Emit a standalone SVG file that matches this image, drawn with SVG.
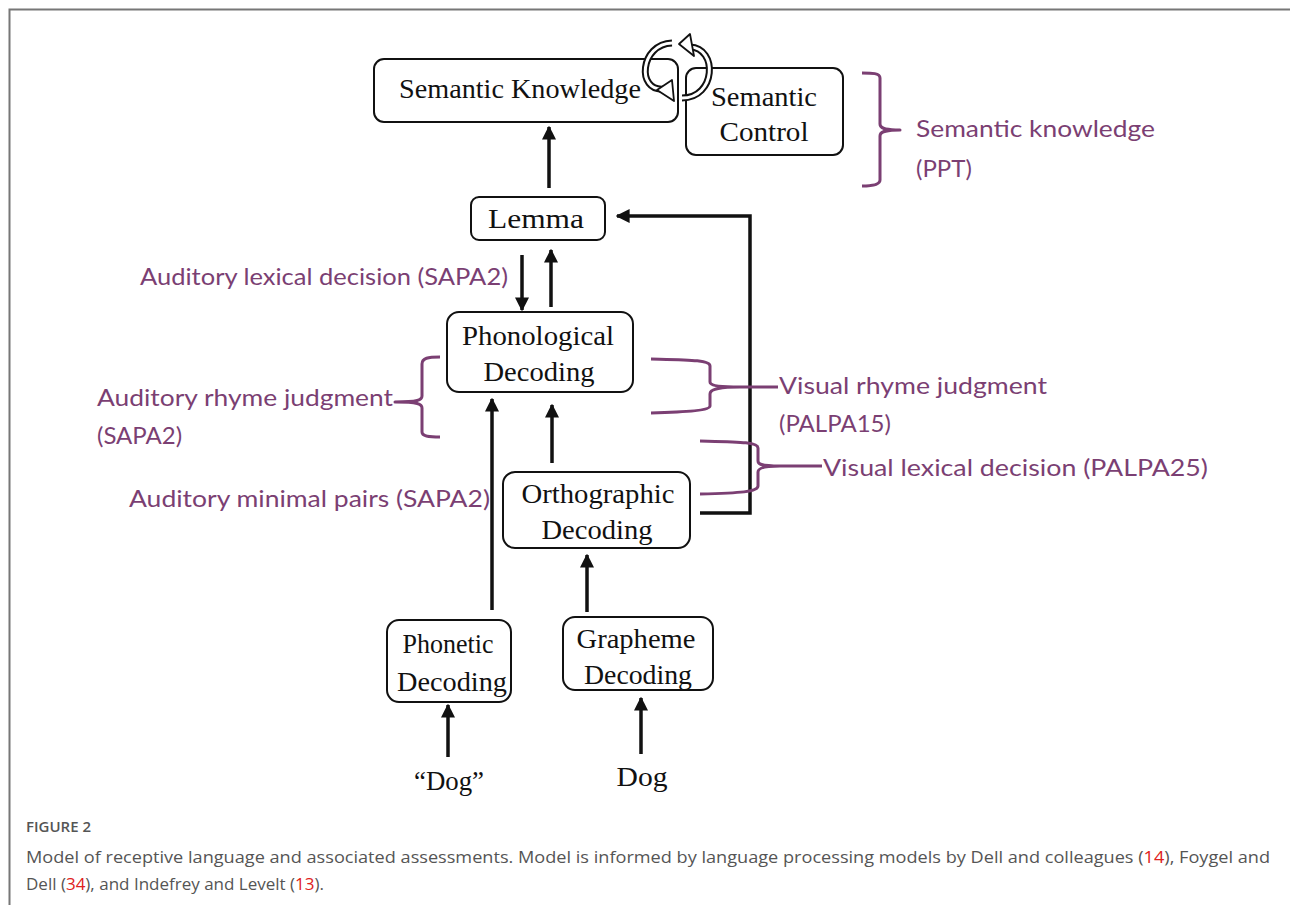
<svg xmlns="http://www.w3.org/2000/svg" width="1290" height="909" viewBox="0 0 1290 909">
<defs>
<marker id="ah" viewBox="0 0 10 10" refX="9" refY="5" markerWidth="4" markerHeight="4" markerUnits="strokeWidth" orient="auto">
<path d="M0,0 L10,5 L0,10 z" fill="#111"/>
</marker>
<style>
.box{fill:#fff;stroke:#111;stroke-width:2}
.bt{font-family:"Liberation Serif","Times New Roman",serif;font-size:28px;fill:#111;text-anchor:middle}
.conn{stroke:#111;stroke-width:3.5;fill:none}
.br{stroke:#7b3f73;stroke-width:3;fill:none;stroke-linejoin:round}
.lab{font-family:Lato,"Open Sans",sans-serif;font-size:24px;fill:#7b3f73}
.cap{font-family:"Open Sans","Noto Sans",sans-serif;fill:#555}
.cyc{fill:none;stroke:#111;stroke-width:7}
.cyci{fill:none;stroke:#fff;stroke-width:3}
.cyh{fill:#fff;stroke:#111;stroke-width:1.8;stroke-linejoin:round}
</style>
</defs>
<rect width="1290" height="909" fill="#fff"/>
<path d="M9.5,905 V9.5 H1290" fill="none" stroke="#777" stroke-width="2"/>

<g id="connectors">
<path class="conn" d="M549,188 V127" marker-end="url(#ah)"/>
<path class="conn" d="M522,255 V310" marker-end="url(#ah)"/>
<path class="conn" d="M551,307 V250" marker-end="url(#ah)"/>
<path class="conn" d="M492,610 V399" marker-end="url(#ah)"/>
<path class="conn" d="M552,463 V405" marker-end="url(#ah)"/>
<path class="conn" d="M587,612 V555" marker-end="url(#ah)"/>
<path class="conn" d="M448,757 V705" marker-end="url(#ah)"/>
<path class="conn" d="M641,754 V698" marker-end="url(#ah)"/>
<path class="conn" d="M700,513 H750 V216 H617" marker-end="url(#ah)"/>
</g>

<g id="semantic-knowledge">
<rect class="box" x="374" y="59" width="304" height="63" rx="10"/>
<text class="bt" x="520" y="98" textLength="242" lengthAdjust="spacingAndGlyphs">Semantic Knowledge</text>
</g>
<g id="semantic-control">
<rect class="box" x="686" y="68" width="157" height="87" rx="10"/>
<text class="bt" x="764" y="106" textLength="106" lengthAdjust="spacingAndGlyphs">Semantic</text>
<text class="bt" x="764" y="141" textLength="89" lengthAdjust="spacingAndGlyphs">Control</text>
</g>

<g id="cycle-arrows">
<path class="cyc" d="M672,43 C640,44 636,92 664,89"/>
<path class="cyci" d="M672,43 C640,44 636,92 664,89"/>
<path class="cyh" d="M674,101 L657,90 L672,80 z"/>
<path class="cyc" d="M690,47 C718,48 716,98 682,98"/>
<path class="cyci" d="M690,47 C718,48 716,98 682,98"/>
<path class="cyh" d="M679,44 L690,34 L694,56 z"/>
</g>

<g id="lemma">
<rect class="box" x="471" y="197" width="134" height="43" rx="8"/>
<text class="bt" x="536" y="228" textLength="96" lengthAdjust="spacingAndGlyphs">Lemma</text>
</g>
<g id="phonological">
<rect class="box" x="447" y="312" width="186" height="80" rx="12"/>
<text class="bt" x="538" y="345" textLength="152" lengthAdjust="spacingAndGlyphs">Phonological</text>
<text class="bt" x="539" y="381" textLength="111" lengthAdjust="spacingAndGlyphs">Decoding</text>
</g>
<g id="orthographic">
<rect class="box" x="503" y="472" width="187" height="76" rx="12"/>
<text class="bt" x="598" y="503" textLength="153" lengthAdjust="spacingAndGlyphs">Orthographic</text>
<text class="bt" x="597" y="539" textLength="111" lengthAdjust="spacingAndGlyphs">Decoding</text>
</g>
<g id="phonetic">
<rect class="box" x="387" y="620" width="124" height="82" rx="12"/>
<text class="bt" x="448" y="653" textLength="91" lengthAdjust="spacingAndGlyphs">Phonetic</text>
<text class="bt" x="452" y="691" textLength="110" lengthAdjust="spacingAndGlyphs">Decoding</text>
</g>
<g id="grapheme">
<rect class="box" x="563" y="617" width="150" height="73" rx="12"/>
<text class="bt" x="636" y="648" textLength="119" lengthAdjust="spacingAndGlyphs">Grapheme</text>
<text class="bt" x="638" y="684" textLength="108" lengthAdjust="spacingAndGlyphs">Decoding</text>
</g>
<g id="input-spoken">
<text class="bt" x="449" y="790" textLength="70" lengthAdjust="spacingAndGlyphs">“Dog”</text>
</g>
<g id="input-written">
<text class="bt" x="642" y="786" textLength="51" lengthAdjust="spacingAndGlyphs">Dog</text>
</g>

<g id="assessments">
<path class="br" d="M862,73 C872,73 880,73 880,78 V124 C880,128 884,130 900,130 C884,130 880,132 880,136 V180 C880,185 872,186 862,186"/>
<text class="lab" x="916" y="137" textLength="239" lengthAdjust="spacingAndGlyphs">Semantic knowledge</text>
<text class="lab" x="916" y="177">(PPT)</text>

<text class="lab" x="140" y="285" textLength="368" lengthAdjust="spacingAndGlyphs">Auditory lexical decision (SAPA2)</text>

<path class="br" d="M440,357 C428,357 422,358 422,364 V396 C422,400 418,402 395,402 C418,402 422,404 422,408 V432 C422,436 428,437 440,437"/>
<text class="lab" x="97" y="406" textLength="296" lengthAdjust="spacingAndGlyphs">Auditory rhyme judgment</text>
<text class="lab" x="97" y="444">(SAPA2)</text>

<text class="lab" x="129" y="507" textLength="361" lengthAdjust="spacingAndGlyphs">Auditory minimal pairs (SAPA2)</text>

<path class="br" d="M651,359 C690,360 710,360 710,366 V382 C710,385 716,387 740,387 H778 M740,387 C716,387 710,390 710,394 V406 C710,410 690,412 651,413"/>
<text class="lab" x="779" y="394" textLength="268" lengthAdjust="spacingAndGlyphs">Visual rhyme judgment</text>
<text class="lab" x="779" y="432">(PALPA15)</text>

<path class="br" d="M700,441 C740,442 758,442 758,448 V461 C758,465 764,466 780,466 H822 M780,466 C764,466 758,468 758,472 V486 C758,492 740,493 700,494"/>
<text class="lab" x="823" y="476" textLength="385" lengthAdjust="spacingAndGlyphs">Visual lexical decision (PALPA25)</text>
</g>

<g id="caption">
<text class="cap" x="26" y="832" font-size="15" font-weight="600" fill="#666">FIGURE 2</text>
<text class="cap" x="26" y="863" font-size="17" textLength="1244" lengthAdjust="spacingAndGlyphs">Model of receptive language and associated assessments. Model is informed by language processing models by Dell and colleagues (<tspan fill="#e02020">14</tspan>), Foygel and</text>
<text class="cap" x="26" y="890" font-size="17">Dell (<tspan fill="#e02020">34</tspan>), and Indefrey and Levelt (<tspan fill="#e02020">13</tspan>).</text>
</g>
</svg>
